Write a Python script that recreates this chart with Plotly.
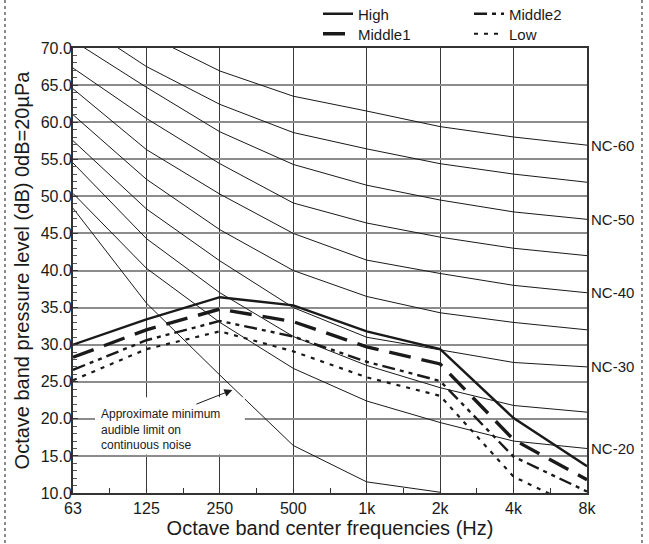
import plotly.graph_objects as go

# ---------------- data ----------------
freq_labels = ["63", "125", "250", "500", "1k", "2k", "4k", "8k"]
y_tick_values = [10, 15, 20, 25, 30, 35, 40, 45, 50, 55, 60, 65, 70]

series_names = ["High", "Middle2", "Middle1", "Low"]
high    = [30.0, 33.4, 36.4, 35.3, 31.8, 29.4, 20.1, 13.6]
middle2 = [26.6, 30.6, 33.2, 31.1, 27.7, 25.1, 14.9, 10.2]
middle1 = [28.3, 32.0, 34.8, 33.1, 29.7, 27.4, 17.2, 11.8]
low     = [25.2, 29.4, 31.8, 29.1, 25.6, 23.1, 12.2, 7.5]

nc_names = ["NC-20", "NC-25", "NC-30", "NC-35", "NC-40", "NC-45", "NC-50", "NC-55", "NC-60"]
nc_20 = [50.4, 40.3, 33.0, 26.8, 22.4, 19.5, 17.0, 16.0]
nc_25 = [54.5, 44.3, 37.0, 31.1, 27.2, 24.2, 21.8, 20.9]
nc_30 = [57.5, 48.3, 41.3, 35.0, 31.0, 29.3, 27.6, 27.0]
nc_35 = [61.0, 52.3, 45.5, 40.0, 36.5, 34.3, 33.0, 32.0]
nc_40 = [64.5, 56.3, 50.3, 45.0, 41.4, 39.6, 38.0, 37.0]
nc_45 = [67.3, 60.5, 54.4, 49.1, 46.4, 44.5, 43.0, 42.0]
nc_50 = [71.0, 64.7, 58.7, 54.3, 51.5, 49.5, 47.9, 46.9]
nc_55 = [74.0, 67.5, 62.4, 58.6, 56.4, 54.4, 53.0, 51.9]
nc_60 = [77.0, 71.8, 66.9, 63.5, 61.5, 59.4, 58.0, 56.9]
nc_values = [nc_20, nc_25, nc_30, nc_35, nc_40, nc_45, nc_50, nc_55, nc_60]
nc_labelled = ["NC-20", "NC-30", "NC-40", "NC-50", "NC-60"]

threshold = [48.4, 35.6, 25.9, 16.4, 11.5, 10.1, None, None]
threshold_text = "Approximate minimum<br>audible limit on<br>continuous noise"

x_title = "Octave band center frequencies (Hz)"
y_title = "Octave band pressure level (dB) 0dB=20µPa"

# ---------------- styling ----------------
REG = "Liberation Sans, Arial, sans-serif"
INK = "#1a1a1a"

xpos = list(range(len(freq_labels)))

fig = go.Figure()

for name, vals in zip(nc_names, nc_values):
    fig.add_trace(go.Scatter(x=xpos, y=vals, mode="lines", showlegend=False,
                             line=dict(color=INK, width=1), hoverinfo="skip", name=name))

fig.add_trace(go.Scatter(x=xpos, y=threshold, mode="lines", showlegend=False,
                         line=dict(color=INK, width=1), name="threshold", hoverinfo="skip"))

styles = {
    "High": dict(color=INK, width=2.4, dash="solid"),
    "Middle2": dict(color=INK, width=2.4, dash="13px,5px,4px,5px,4px,5px"),
    "Middle1": dict(color=INK, width=3.4, dash="22px,11px"),
    "Low": dict(color=INK, width=2.2, dash="4px,6px"),
}
data_map = {"High": high, "Middle2": middle2, "Middle1": middle1, "Low": low}
legend_map = {"High": "legend", "Middle2": "legend", "Middle1": "legend2", "Low": "legend2"}

for name in series_names:
    fig.add_trace(go.Scatter(x=xpos, y=data_map[name], mode="lines", name=name,
                             line=styles[name], legend=legend_map[name]))

# NC labels at right end of curves
for name, vals in zip(nc_names, nc_values):
    if name in nc_labelled:
        fig.add_annotation(x=xpos[-1], y=vals[-1], text=name, showarrow=False,
                           xanchor="left", yanchor="middle", xshift=2,
                           font=dict(family=REG, size=15, color=INK))

# white box behind the threshold note
fig.add_shape(type="rect", xref="x", yref="y", x0=0.30, x1=2.34, y0=15.2, y1=22.9,
              fillcolor="white", line=dict(width=0), layer="above")
fig.add_annotation(x=0.35, y=18.5, xref="x", yref="y", text=threshold_text,
                   showarrow=False, xanchor="left", yanchor="middle", align="left",
                   font=dict(family=REG, size=12, color=INK))
fig.add_annotation(x=2.17, y=23.9, ax=1.66, ay=21.9, xref="x", yref="y",
                   axref="x", ayref="y", text="", showarrow=True,
                   arrowhead=2, arrowsize=1.6, arrowwidth=1, arrowcolor=INK)

# dotted border on left and right
L, T, W, H = 73, 48, 514, 445
def px2x(p):
    return (p - L) / W
def py2y(p):
    return (T + H - p) / H
for px in (5, 642):
    fig.add_shape(type="line", xref="paper", yref="paper",
                  x0=px2x(px), x1=px2x(px), y0=py2y(0), y1=py2y(544),
                  line=dict(color="#666", width=1.5, dash="dot"))

fig.update_layout(
    width=649, height=544,
    margin=dict(l=L, r=649 - L - W, t=T, b=544 - T - H, autoexpand=False),
    paper_bgcolor="white", plot_bgcolor="white",
    font=dict(family=REG, color=INK, size=16),
    legend=dict(orientation="h", x=px2x(318), y=py2y(14), xanchor="left", yanchor="middle",
                entrywidth=106, entrywidthmode="pixels", itemwidth=30,
                font=dict(family=REG, size=15, color=INK), bgcolor="rgba(0,0,0,0)",
                traceorder="normal"),
    legend2=dict(orientation="h", x=px2x(318), y=py2y(34), xanchor="left", yanchor="middle",
                 entrywidth=106, entrywidthmode="pixels", itemwidth=30,
                 font=dict(family=REG, size=15, color=INK), bgcolor="rgba(0,0,0,0)",
                 traceorder="normal"),
    xaxis=dict(range=[0, 7], tickvals=xpos, ticktext=freq_labels,
               showgrid=True, gridcolor="#3a3a3a", gridwidth=1.2,
               showline=True, linecolor="#333", linewidth=2, mirror=True,
               ticks="inside", ticklen=5, tickcolor="#333",
               minor=dict(ticks="inside", ticklen=5, dtick=0.5, tick0=0, tickcolor="#333", showgrid=False),
               tickfont=dict(family=REG, size=16, color=INK),
               title=dict(text=x_title, font=dict(family=REG, size=20, color=INK), standoff=4),
               zeroline=False, automargin=False),
    yaxis=dict(range=[10, 70], tickvals=y_tick_values, tickformat=".1f",
               showgrid=True, gridcolor="#8c8c8c", gridwidth=2,
               showline=True, linecolor="#333", linewidth=2, mirror=True,
               ticks="inside", ticklen=5, tickcolor="#333", ticklabelstandoff=-4,
               minor=dict(ticks="inside", ticklen=4, dtick=1, tick0=10, tickcolor="#555", showgrid=False),
               tickfont=dict(family=REG, size=16, color=INK),
               title=dict(text=y_title, font=dict(family=REG, size=20, color=INK), standoff=6),
               zeroline=False, automargin=False),
)

fig.write_html("out.html", config={"displayModeBar": False},
               post_script="document.body.style.margin='0';document.body.style.overflow='hidden';")
